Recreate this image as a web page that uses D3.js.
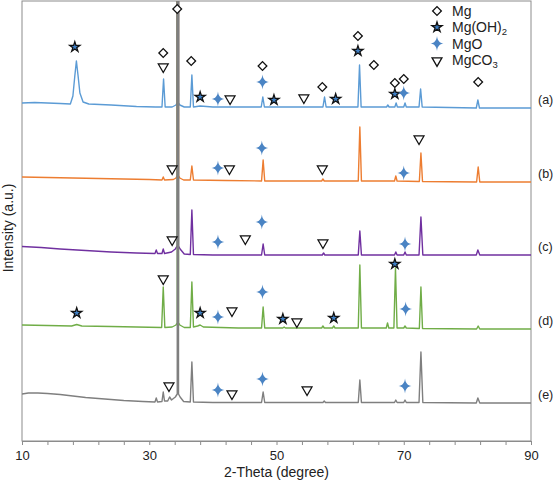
<!DOCTYPE html>
<html>
<head>
<meta charset="utf-8">
<script src="https://cdn.jsdelivr.net/npm/d3@7"></script>
<style>
  html, body { margin: 0; padding: 0; background: #fff; }
  svg { display: block; font-family: Arial, "Liberation Sans", sans-serif; }
</style>
</head>
<body>
<svg id="chart" width="555" height="486"></svg>
<script>
// ---------- DATA ----------
const seriesNames = ["(a)", "(b)", "(c)", "(d)", "(e)"];
const seriesColors = ["#5b9bd5", "#ed7d31", "#7030a0", "#70ad47", "#7f7f7f"];

const patternA = [
  [10,338],[12,338.5],[14,338],[16,337.5],[17.6,337],[18.0,345],[18.3,365],[18.55,380],[18.8,366],[19.1,348],[19.6,339],[20.5,337],
  [24,336],[28,334.5],[31,334],[32.0,334],[32.25,362],[32.5,334],[33.6,334],[34.2,336],[34.4,338],[34.5,3000],[34.6,338],[34.8,336],[35.5,334],
  [36.45,334],[36.7,366],[36.95,334],[38,335],[40,334],[44,334],[47.6,334],[47.85,344],[48.1,334],[52,334],
  [57.3,334],[57.55,344],[57.8,334],[62.8,334],[63.05,376],[63.3,334],[67.3,334],[67.5,336],[67.7,334],
  [68.6,334],[68.8,338],[69.0,334],[70.0,334],[70.2,338],[70.4,334],[72.4,334],[72.65,352],[72.9,334],
  [81.4,333],[81.65,341],[81.9,333],[90,333]
];
const patternB = [
  [10,264],[14,263.5],[18,263],[22,262.5],[26,262],[30,261.5],[32.0,261],[32.2,264],[32.4,261],[33.8,261.5],[34.2,263],
  [34.4,265],[34.5,3000],[34.6,265],[34.8,263],[35.4,261],[36.45,261],[36.7,275],[36.95,261],[42,260.5],[47.65,260],[47.9,281],[48.15,260],
  [57.1,260],[57.3,262],[57.5,260],[62.85,260],[63.1,314],[63.35,260],[68.55,260],[68.75,265],[68.95,260],
  [72.45,259.5],[72.7,288],[72.95,259.5],[81.45,259],[81.7,274],[81.95,259],[90,259]
];
const patternC = [
  [10,194.5],[13,193.5],[16,192],[20,190.5],[24,189],[28,188],[30.9,187.5],[31.1,191],[31.3,187.5],[32.0,187.5],[32.2,192],
  [32.4,187.5],[33.5,189],[34.1,192],[34.4,195],[34.5,3000],[34.6,195],[34.85,192],[35.5,187],[36.45,186.5],[36.7,231],[36.95,186.5],[40,186],
  [47.65,186],[47.9,197],[48.15,186],[57.2,186],[57.4,188],[57.6,186],[62.85,186],[63.1,210],[63.35,186],
  [68.55,186],[68.75,189],[68.95,186],[70.0,186],[70.2,189],[70.4,186],[72.4,186],[72.7,224],[73.0,186],
  [81.4,186],[81.65,191],[81.95,186],[90,186]
];
const patternD = [
  [10,116],[14,115.5],[17.8,115],[18.6,116.5],[19.4,115],[24,114.5],[28,114],[31.95,113.5],[32.2,154],[32.45,113.5],
  [33.6,114],[34.2,116],[34.4,118],[34.5,3000],[34.6,118],[34.8,116],[35.5,113.5],[36.45,113.5],[36.7,159],[36.95,114],[37.6,115],[38.0,116],
  [38.5,114],[44,113],[47.65,113],[47.9,134],[48.15,113],[51,113],[51.2,114],[51.4,113],[57.1,113],[57.3,115],[57.5,113],
  [58.8,113],[59.0,115],[59.2,113],[62.85,113],[63.1,176],[63.35,113],[67.25,113],[67.45,118],[67.65,113],
  [68.45,113],[68.7,173],[68.95,113],[70.0,113],[70.2,115],[70.4,113],[72.45,112.5],[72.7,154],[72.95,112.5],
  [81.45,112],[81.7,115],[81.95,112],[90,112]
];
const patternE = [
  [10,47],[11,48],[12.5,48],[14,47.5],[16,46.5],[18,45],[20,43.5],[23,42],[26,40.5],[29,39.5],[30.9,39],[31.1,43],[31.3,39],
  [32.0,39.5],[32.2,49],[32.4,40],[32.9,40],[33.2,44],[33.5,41],[34.1,44],[34.4,47],[34.5,3000],[34.6,47],[34.85,44],[35.4,39.5],
  [36.45,39],[36.7,79],[36.95,39],[40,38.5],[47.65,38.5],[47.9,49],[48.15,38.5],[57.3,38.5],[57.5,40],[57.7,38.5],
  [62.85,38.5],[63.1,61],[63.35,38.5],[68.55,38.5],[68.75,41],[68.95,38.5],[70.0,38.5],[70.2,41],[70.4,38.5],
  [72.4,38.5],[72.7,89],[73.0,38.5],[81.4,38],[81.65,43],[81.95,38],[90,38]
];
const patterns = [patternA, patternB, patternC, patternD, patternE];

// phase markers: [2theta, intensity]
const mgMarks = [[32.2,388],[34.4,432],[36.6,380],[47.8,375],[57.2,354],[62.8,405],[65.3,376],[68.6,358],[70.0,362],[81.7,359]];
const mgOH2Marks = [[18.3,394],[38.0,344],[49.6,341],[59.3,342],[62.8,390],[68.6,347],
                    [18.6,128],[38.0,128],[51.0,122],[59.0,123],[68.6,177]];
const mgOMarks = [[40.8,342],[47.8,359],[70.0,348],
                  [40.8,273],[47.7,293],[70.0,268],
                  [40.8,199],[47.7,219],[70.2,197],
                  [40.8,124],[47.8,149],[70.3,132],
                  [40.8,51],[47.8,62],[70.2,55]];
const mgCO3Marks = [[32.2,375],[42.7,343],[54.3,344],
                    [33.6,273],[42.6,273],[57.2,273],[72.4,303],
                    [33.6,202],[45.1,203],[57.3,199],
                    [32.2,163],[43.0,131],[53.2,120],
                    [33.1,56],[43.0,48],[54.8,52]];

const legendLabels = ["Mg", "Mg(OH)", "MgO", "MgCO"];
const legendSubs = ["", "2", "", "3"];
const xTicks = [10,14,18,22,26,30,34,38,42,46,50,54,58,62,66,70,74,78,82,86,90];
const xTickLabels = [10, 30, 50, 70, 90];

// ---------- LAYOUT ----------
const svg = d3.select("#chart");
const L = 22, R = 531, T = 1, B = 441;
const x = d3.scaleLinear().domain([10, 90]).range([L, R]);
const y = d3.scaleLinear().domain([0, 440]).range([B, T]);

svg.append("defs").append("clipPath").attr("id", "clip")
  .append("rect").attr("x", L).attr("y", T).attr("width", R - L).attr("height", B - T);

// frame
svg.append("rect").attr("x", L).attr("y", T).attr("width", R - L).attr("height", B - T)
  .attr("fill", "none").attr("stroke", "#8c8c8c").attr("stroke-width", 1);

// x axis
const xAxis = d3.axisBottom(x).tickValues(xTicks).tickSize(4).tickPadding(6)
  .tickFormat(d => xTickLabels.includes(d) ? d : "");
const gx = svg.append("g").attr("transform", `translate(0,${B})`).call(xAxis);
gx.select(".domain").attr("stroke", "#8c8c8c");
gx.selectAll(".tick line").attr("stroke", "#8c8c8c");
gx.selectAll(".tick text").attr("font-size", 13).attr("fill", "#222")
  .attr("font-family", "Arial, 'Liberation Sans', sans-serif");

svg.append("text").attr("x", (L + R) / 2).attr("y", 477).attr("text-anchor", "middle")
  .attr("font-size", 14).attr("fill", "#222").text("2-Theta (degree)");
svg.append("text").attr("transform", `translate(13,${228}) rotate(-90)`).attr("text-anchor", "middle")
  .attr("font-size", 14).attr("fill", "#222").text("Intensity (a.u.)");

// curves
const line = d3.line().x(d => x(d[0])).y(d => y(d[1]));
const gLines = svg.append("g").attr("clip-path", "url(#clip)");
patterns.forEach((p, i) => {
  gLines.append("path").datum(p).attr("d", line)
    .attr("fill", "none").attr("stroke", seriesColors[i]).attr("stroke-width", 1.4)
    .attr("stroke-linejoin", "round");
});

// series labels
patterns.forEach((p, i) => {
  const last = p[p.length - 1];
  svg.append("text").attr("x", 538).attr("y", y(last[1]) - 8.5).attr("dy", "0.35em")
    .attr("font-size", 12.5).attr("fill", "#222").text(seriesNames[i]);
});

// marker shapes
const diamondPath = d3.symbol().type(d3.symbolSquare).size(38)();
const starPath = d3.symbol().type(d3.symbolStar).size(32)();
const triPath = d3.symbol().type(d3.symbolTriangle).size(42)();
const sparkPath = "M0,-7.5 C0.6,-2.6 2.6,-0.6 6.5,0 C2.6,0.6 0.6,2.6 0,7.5 C-0.6,2.6 -2.6,0.6 -6.5,0 C-2.6,-0.6 -0.6,-2.6 0,-7.5 Z";

function drawDiamond(g, px, py) {
  g.append("path").attr("d", diamondPath).attr("transform", `translate(${px},${py}) rotate(45)`)
    .attr("fill", "#fff").attr("stroke", "#111").attr("stroke-width", 1.3);
}
function drawStar(g, px, py) {
  g.append("path").attr("d", starPath).attr("transform", `translate(${px},${py})`)
    .attr("fill", "#3f7fc4").attr("stroke", "#111").attr("stroke-width", 1.3).attr("stroke-linejoin", "miter");
}
function drawSpark(g, px, py) {
  g.append("path").attr("d", sparkPath).attr("transform", `translate(${px},${py})`)
    .attr("fill", "#4a84c4");
}
function drawTri(g, px, py) {
  g.append("path").attr("d", triPath).attr("transform", `translate(${px},${py + 0.8}) rotate(180)`)
    .attr("fill", "#fff").attr("stroke", "#111").attr("stroke-width", 1.3);
}

const gm = svg.append("g");
mgMarks.forEach(d => drawDiamond(gm, x(d[0]), y(d[1])));
mgOH2Marks.forEach(d => drawStar(gm, x(d[0]), y(d[1])));
mgOMarks.forEach(d => drawSpark(gm, x(d[0]), y(d[1])));
mgCO3Marks.forEach(d => drawTri(gm, x(d[0]), y(d[1])));

// legend
const drawers = [drawDiamond, drawStar, drawSpark, drawTri];
const lg = svg.append("g");
legendLabels.forEach((lab, i) => {
  const ly = 11 + i * 16.3;
  drawers[i](lg, 437, ly);
  const t = lg.append("text").attr("x", 452).attr("y", ly).attr("dy", "0.36em")
    .attr("font-size", 14).attr("fill", "#222").text(lab);
  if (legendSubs[i]) {
    t.append("tspan").attr("font-size", 9.5).attr("dy", "0.3em").text(legendSubs[i]);
  }
});
</script>
</body>
</html>
